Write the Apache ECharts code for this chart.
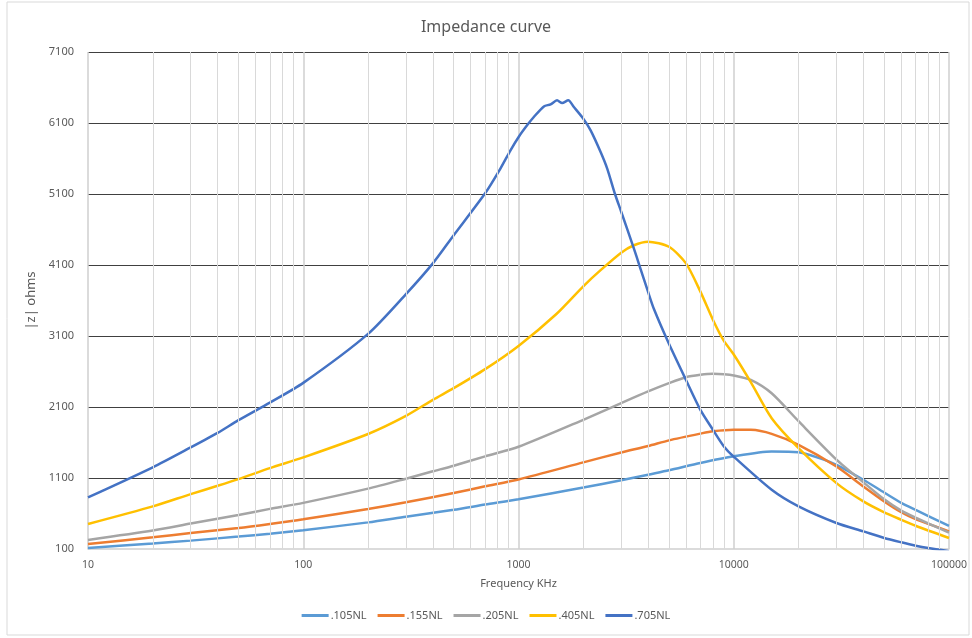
<!DOCTYPE html>
<html>
<head>
<meta charset="utf-8">
<script src="https://cdn.jsdelivr.net/npm/echarts@6/dist/echarts.min.js"></script>
<style>
html,body{margin:0;padding:0;background:#fff;}
#chart{width:972px;height:638px;}
</style>
</head>
<body>
<div id="chart"></div>
<script>
// ---- data ----
const seriesNames = ['.105NL', '.155NL', '.205NL', '.405NL', '.705NL'];
const seriesColors = ['#5B9BD5', '#ED7D31', '#A5A5A5', '#FFC000', '#4472C4'];

const freq105 = [10, 20, 30, 50, 70, 100, 200, 300, 500, 700, 1000, 2000, 3000, 4000, 5000, 7000, 10000, 15000, 20000, 25000, 30000, 40000, 50000, 60000, 70000, 100000];
const z105    = [115, 178, 218, 275, 315, 365, 475, 555, 652, 726, 800, 965, 1067, 1147, 1208, 1311, 1405, 1473, 1464, 1380, 1286, 1075, 895, 750, 650, 425];

const freq155 = [10, 20, 30, 50, 70, 100, 200, 300, 500, 700, 1000, 2000, 3000, 4000, 5000, 7000, 8000, 10000, 12000, 15000, 20000, 30000, 40000, 50000, 60000, 70000, 100000];
const z155    = [170, 265, 325, 395, 452, 518, 664, 758, 889, 983, 1080, 1320, 1460, 1550, 1630, 1725, 1758, 1780, 1778, 1722, 1567, 1262, 981, 770, 618, 520, 348];

const freq205 = [10, 20, 30, 50, 70, 100, 200, 300, 400, 500, 700, 1000, 2000, 3000, 4000, 5000, 6000, 7000, 8000, 9000, 10000, 12000, 15000, 20000, 30000, 40000, 50000, 60000, 70000, 100000];
const z205    = [228, 360, 458, 580, 665, 750, 950, 1090, 1194, 1273, 1405, 1540, 1920, 2155, 2319, 2436, 2520, 2553, 2567, 2562, 2545, 2481, 2293, 1900, 1360, 1040, 800, 640, 540, 330];

const freq405 = [10, 20, 30, 40, 50, 70, 100, 200, 300, 400, 500, 700, 1000, 1500, 2000, 2407, 3000, 3437, 4000, 5000, 6000, 7000, 8000, 9000, 10000, 12000, 15000, 20000, 30000, 40000, 50000, 60000, 70000, 100000];
const z405    = [452, 700, 873, 990, 1084, 1239, 1390, 1720, 1975, 2201, 2365, 2633, 2960, 3410, 3800, 4027, 4273, 4378, 4428, 4357, 4123, 3725, 3330, 3030, 2840, 2450, 1942, 1520, 1028, 770, 616, 512, 428, 255];

const freq705 = [10, 20, 30, 40, 50, 70, 100, 200, 300, 400, 500, 700, 824, 918, 1000, 1096, 1178, 1312, 1409, 1510, 1595, 1703, 1808, 2000, 2163, 2407, 2583, 2807, 3000, 3437, 3631, 4000, 4258, 5000, 6000, 7000, 8000, 9000, 10000, 15000, 20000, 30000, 40000, 50000, 60000, 70000, 80000, 100000];
const z705    = [826, 1250, 1530, 1735, 1914, 2162, 2440, 3130, 3690, 4123, 4520, 5110, 5458, 5716, 5900, 6067, 6184, 6334, 6362, 6419, 6381, 6419, 6325, 6161, 5997, 5692, 5458, 5100, 4850, 4330, 4110, 3720, 3480, 2990, 2480, 2060, 1780, 1545, 1400, 934, 700, 466, 348, 255, 194, 147, 114, 70];

const xTickLabels = ['10', '100', '1000', '10000', '100000'];
const yTickLabels = ['100', '1100', '2100', '3100', '4100', '5100', '6100', '7100'];

// ---- build ----
const freqs = [freq105, freq155, freq205, freq405, freq705];
const zs = [z105, z155, z205, z405, z705];

function pairs(f, z) { return f.map((v, i) => [v, z[i]]); }

// minor vertical grid positions (2..9 within each decade)
const minorGrid = [];
for (let d = 10; d < 100000; d *= 10) {
  for (let m = 2; m <= 9; m++) minorGrid.push({ xAxis: d * m });
}

const series = seriesNames.map((name, i) => ({
  name: name,
  type: 'line',
  data: pairs(freqs[i], zs[i]),
  showSymbol: false,
  symbol: 'none',
  smooth: 0.25,
  clip: true,
  z: 3,
  lineStyle: { width: 2.5, color: seriesColors[i] },
  itemStyle: { color: seriesColors[i] }
}));

series.unshift({
  name: 'grid-minor',
  type: 'line',
  data: [],
  z: 1,
  silent: true,
  markLine: {
    silent: true,
    symbol: ['none', 'none'],
    label: { show: false },
    lineStyle: { color: '#d9d9d9', width: 1, type: 'solid' },
    emphasis: { disabled: true },
    animation: false,
    data: minorGrid
  }
});

const chart = echarts.init(document.getElementById('chart'), null, { renderer: 'canvas' });
chart.setOption({
  animation: false,
  backgroundColor: '#ffffff',
  color: seriesColors,
  textStyle: { fontFamily: 'Noto Sans, sans-serif' },
  title: {
    text: 'Impedance curve',
    left: 'center',
    top: 14,
    textStyle: { fontSize: 16, fontWeight: 'normal', color: '#595959', fontFamily: 'Noto Sans, sans-serif' }
  },
  graphic: [{
    type: 'rect',
    shape: { x: 7, y: 2, width: 962, height: 633 },
    style: { fill: 'none', stroke: '#d9d9d9', lineWidth: 1 },
    silent: true,
    z: -1
  }],
  legend: {
    data: seriesNames,
    bottom: 12,
    left: 'center',
    icon: 'rect',
    itemWidth: 27,
    itemHeight: 3,
    itemGap: 11,
    textStyle: { fontSize: 11, color: '#595959', padding: [0, 0, 0, -3] }
  },
  grid: { left: 88, right: 23, top: 52, bottom: 89, containLabel: false },
  xAxis: {
    type: 'log',
    logBase: 10,
    min: 10,
    max: 100000,
    name: 'Frequency KHz',
    nameLocation: 'middle',
    nameGap: 29,
    nameTextStyle: { fontSize: 11, color: '#595959' },
    axisLine: { show: true, onZero: false, lineStyle: { color: '#d0d0d0', width: 1.5 } },
    axisTick: { show: false },
    axisLabel: {
      fontSize: 10.5,
      color: '#595959',
      margin: 11,
      formatter: function (v) {
        const s = String(Math.round(v));
        return xTickLabels.indexOf(s) >= 0 ? s : '';
      }
    },
    splitLine: { show: true, lineStyle: { color: '#cfcfcf', width: 1.5 } }
  },
  yAxis: {
    type: 'value',
    min: 100,
    max: 7100,
    interval: 1000,
    name: '|z| ohms',
    nameLocation: 'middle',
    nameRotate: 90,
    nameGap: 34,
    nameTextStyle: { fontSize: 13, color: '#595959' },
    axisLine: { show: false },
    axisTick: { show: false },
    axisLabel: {
      fontSize: 11,
      color: '#595959',
      margin: 14,
      formatter: function (v) {
        const s = String(Math.round(v));
        return yTickLabels.indexOf(s) >= 0 ? s : '';
      }
    },
    splitLine: { show: true, showMinLine: false, lineStyle: { color: '#404040', width: 1 } }
  },
  series: series
});
</script>
</body>
</html>
